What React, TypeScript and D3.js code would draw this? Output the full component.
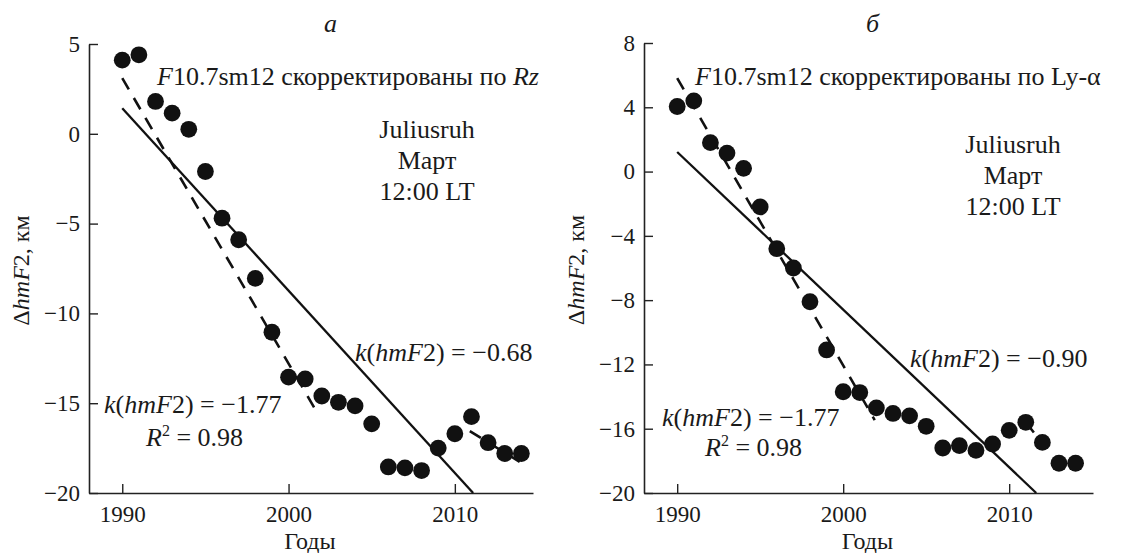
import React, { useRef, useEffect } from 'react';
import * as d3 from 'd3';

// years of observation
const years = [1990, 1991, 1992, 1993, 1994, 1995, 1996, 1997, 1998, 1999, 2000, 2001, 2002,
  2003, 2004, 2005, 2006, 2007, 2008, 2009, 2010, 2011, 2012, 2013, 2014];

// panel a: F10.7sm12 corrected by Rz
const valuesRz = [4.1, 4.4, 1.8, 1.15, 0.25, -2.1, -4.7, -5.9, -8.05, -11.05, -13.55, -13.65, -14.6,
  -14.95, -15.15, -16.15, -18.55, -18.6, -18.75, -17.5, -16.7, -15.75, -17.2, -17.8, -17.8];
// panel б: F10.7sm12 corrected by Ly-alpha
const valuesLy = [4.05, 4.4, 1.8, 1.15, 0.2, -2.2, -4.8, -6.0, -8.1, -11.1, -13.7, -13.75, -14.7,
  -15.05, -15.2, -15.85, -17.2, -17.05, -17.35, -16.95, -16.1, -15.6, -16.85, -18.15, -18.15];

// fitted lines: [x0, y0, x1, y1]
const fitSolidRz = [1990, 1.42, 2011.1, -20];
const fitDashRz = [1990, 3.1, 2001.8, -15.65];
const fitTailRz = [2010.9, -16.55, 2013.9, -18.27];
const fitSolidLy = [1990, 1.22, 2011.63, -20];
const fitDashLy = [1990, 5.82, 2001.9, -15.46];
const fitTailLy = [2011, -15.6, 2012, -16.9];

const xTicks = [1990, 2000, 2010];
const yTicksRz = [5, 0, -5, -10, -15, -20];
const yTicksLy = [8, 4, 0, -4, -8, -12, -16, -20];

const FONT = "Liberation Serif, Times New Roman, DejaVu Serif, serif";
const FS = 26;
const minus = (v) => (v < 0 ? '\u2212' + Math.abs(v) : String(v));

const Panel = ({ values, xDomain, xRange, yDomain, yRange, yTicks, solid, dashed, tail, children, labelX }) => {
  const xAxisRef = useRef(null);
  const yAxisRef = useRef(null);
  const x = d3.scaleLinear().domain(xDomain).range(xRange);
  const y = d3.scaleLinear().domain(yDomain).range(yRange);

  useEffect(() => {
    const styleAxis = (g) => {
      g.attr('font-family', FONT).attr('font-size', 23);
      g.selectAll('path').attr('stroke', '#222').attr('stroke-width', 1.6);
      g.selectAll('line').attr('stroke', '#222').attr('stroke-width', 1.4);
      g.selectAll('text').attr('fill', '#1a1a1a');
    };
    d3.select(xAxisRef.current)
      .call(d3.axisBottom(x).tickValues(xTicks).tickFormat(d3.format('d')).tickSizeInner(-9).tickSizeOuter(0).tickPadding(13))
      .call(styleAxis);
    d3.select(yAxisRef.current)
      .call(d3.axisLeft(y).tickValues(yTicks).tickFormat(minus).tickSizeInner(-9).tickSizeOuter(0).tickPadding(9))
      .call(styleAxis);
  }, []);

  const seg = (f) => ({ x1: x(f[0]), y1: y(f[1]), x2: x(f[2]), y2: y(f[3]) });
  const yMid = (yRange[0] + yRange[1]) / 2;
  const xMid = (xRange[0] + xRange[1]) / 2;

  return (
    <g>
      <g ref={xAxisRef} transform={`translate(0,${yRange[0]})`} />
      <g ref={yAxisRef} transform={`translate(${xRange[0]},0)`} />
      <line {...seg(solid)} stroke="#111" strokeWidth={2.3} />
      <line {...seg(dashed)} stroke="#111" strokeWidth={2.6} strokeDasharray="13,10" />
      <line {...seg(tail)} stroke="#111" strokeWidth={2.6} strokeDasharray="13,10" />
      {values.map((v, i) => (
        <circle key={i} cx={x(years[i])} cy={y(v)} r={8.4} fill="#111" />
      ))}
      <text transform={`translate(${labelX},${yMid + 2}) rotate(-90)`} textAnchor="middle"
        fontSize={24} fill="#1a1a1a">
        <tspan>Δ</tspan><tspan fontStyle="italic">hmF</tspan><tspan>2, км</tspan>
      </text>
      <text x={xMid - 1} y={549} textAnchor="middle" fontSize={24} fill="#1a1a1a">Годы</text>
      {children}
    </g>
  );
};

const KText = ({ x, y, value }) => (
  <text x={x} y={y} fontSize={FS} fill="#1a1a1a">
    <tspan fontStyle="italic">k</tspan><tspan>(</tspan><tspan fontStyle="italic">hmF</tspan>
    <tspan>2) = {value}</tspan>
  </text>
);

const R2Text = ({ x, y }) => (
  <text x={x} y={y} fontSize={FS} fill="#1a1a1a">
    <tspan fontStyle="italic">R</tspan><tspan fontSize={16} dy={-10}>2</tspan>
    <tspan dy={10}> = 0.98</tspan>
  </text>
);

const Station = ({ cx, y0 }) => (
  <text fontSize={FS} fill="#1a1a1a" textAnchor="middle">
    <tspan x={cx} y={y0}>Juliusruh</tspan>
    <tspan x={cx} y={y0 + 31}>Март</tspan>
    <tspan x={cx} y={y0 + 62}>12:00 LT</tspan>
  </text>
);

export default function App() {
  return (
    <svg width={1128} height={553} fontFamily={FONT}
      style={{ position: 'absolute', left: 0, top: 0, background: '#fff' }}>
      <Panel values={valuesRz} xDomain={[1988, 2014.7]} xRange={[89, 533]} yDomain={[-20, 5]}
        yRange={[493, 44]} yTicks={yTicksRz} solid={fitSolidRz} dashed={fitDashRz} tail={fitTailRz} labelX={29}>
        <text x={324} y={32} fontSize={FS} fontStyle="italic" fill="#1a1a1a">а</text>
        <text x={157} y={85} fontSize={FS} fill="#1a1a1a">
          <tspan fontStyle="italic">F</tspan><tspan>10.7sm12 скорректированы по </tspan>
          <tspan fontStyle="italic">Rz</tspan>
        </text>
        <Station cx={427} y0={138} />
        <KText x={355} y={361} value={'\u22120.68'} />
        <KText x={104} y={413} value={'\u22121.77'} />
        <R2Text x={146} y={446} />
      </Panel>
      <Panel values={valuesLy} xDomain={[1988, 2015.05]} xRange={[644, 1093]} yDomain={[-20, 8]}
        yRange={[493, 43]} yTicks={yTicksLy} solid={fitSolidLy} dashed={fitDashLy} tail={fitTailLy} labelX={584}>
        <text x={866} y={32} fontSize={FS} fontStyle="italic" fill="#1a1a1a">б</text>
        <text x={695} y={85} fontSize={FS} fill="#1a1a1a">
          <tspan fontStyle="italic">F</tspan><tspan>10.7sm12 скорректированы по Ly-α</tspan>
        </text>
        <Station cx={1013} y0={153} />
        <KText x={910} y={367} value={'\u22120.90'} />
        <KText x={662} y={426} value={'\u22121.77'} />
        <R2Text x={705} y={456} />
      </Panel>
    </svg>
  );
}
